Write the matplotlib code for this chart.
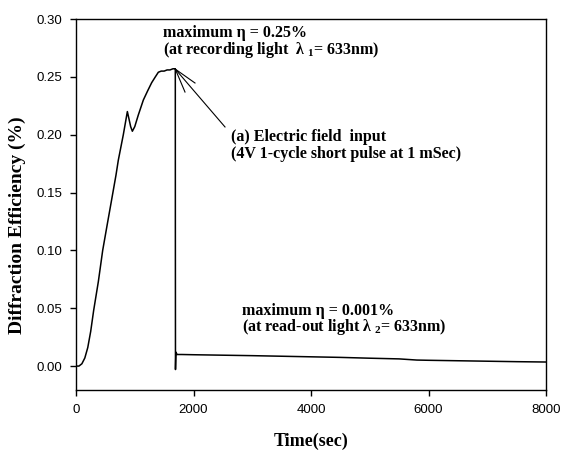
import matplotlib
matplotlib.use("Agg")
import matplotlib.pyplot as plt

plt.rcParams['mathtext.fontset'] = 'custom'
plt.rcParams['mathtext.rm'] = 'Liberation Serif:bold'
plt.rcParams['mathtext.it'] = 'Liberation Serif:bold'
plt.rcParams['mathtext.bf'] = 'Liberation Serif:bold'

# Data
time_s = [0, 50, 100, 150, 200, 250, 300, 380, 454, 530, 607, 680, 720, 805,
          874, 900, 930, 959, 1000, 1060, 1146, 1220, 1288, 1350, 1401, 1450,
          1500, 1550, 1600, 1650, 1690, 1691, 1693, 1700, 1720, 1800, 2000,
          2500, 3000, 3500, 4000, 4500, 5000, 5500, 5800, 6000, 6500, 7000,
          7500, 8000]
efficiency = [0.000, 0.000, 0.002, 0.007, 0.016, 0.030, 0.048, 0.073, 0.100,
              0.122, 0.144, 0.165, 0.178, 0.200, 0.220, 0.214, 0.207, 0.203,
              0.207, 0.217, 0.230, 0.238, 0.245, 0.250, 0.254, 0.255, 0.255,
              0.256, 0.256, 0.257, 0.257, 0.120, -0.003, 0.012, 0.010, 0.0100,
              0.0098, 0.0094, 0.0090, 0.0085, 0.0080, 0.0075, 0.0068, 0.0062,
              0.0052, 0.0050, 0.0046, 0.0042, 0.0038, 0.0035]

xticks = [0, 2000, 4000, 6000, 8000]
yticks = [0.00, 0.05, 0.10, 0.15, 0.20, 0.25, 0.30]

peak_point = (1690, 0.2567)
leader_ends = [(2025, 0.2447), (1855, 0.2369), (2536, 0.2067)]

fig = plt.figure(figsize=(5.61, 4.5), dpi=100)
ax = fig.add_axes([0.1355, 0.1333, 0.8378, 0.8244])

ax.plot(time_s, efficiency, color='black', lw=1.1)

for ex, ey in leader_ends:
    ax.plot([peak_point[0], ex], [peak_point[1], ey], color='black', lw=0.8)

ax.set_xlim(0, 8000)
ax.set_ylim(-0.0207, 0.30)
ax.set_xticks(xticks)
ax.set_yticks(yticks)
ax.set_xticklabels([str(v) for v in xticks], fontfamily='Liberation Sans', fontsize=9.5)
ax.set_yticklabels([f"{v:.2f}" for v in yticks], fontfamily='Liberation Sans', fontsize=9.5)
ax.tick_params(direction='out', length=4, width=1, pad=6)
for sp in ax.spines.values():
    sp.set_linewidth(1.0)

ax.set_xlabel('Time(sec)', labelpad=12, fontfamily='Liberation Serif',
              fontweight='bold', fontsize=13)
ax.set_ylabel('Diffraction Efficiency (%)', fontfamily='Liberation Serif',
              fontweight='bold', fontsize=14)
ax.yaxis.set_label_coords(-0.106, 0.445)

tx = dict(fontfamily='Liberation Serif', fontweight='bold', fontsize=11.5, va='center', ha='left')
ax.text(1476, 0.288, 'maximum η = 0.25%', **tx)
ax.text(1476, 0.2735, r'(at recording light  λ $_{1}$= 633nm)', **tx)
ax.text(2633, 0.198, '(a) Electric field  input', **tx)
ax.text(2633, 0.1835, '(4V 1-cycle short pulse at 1 mSec)', **tx)
ax.text(2820, 0.048, 'maximum η = 0.001%', **tx)
ax.text(2820, 0.034, r'(at read-out light λ $_{2}$= 633nm)', **tx)

fig.savefig('out.png', dpi=100)
